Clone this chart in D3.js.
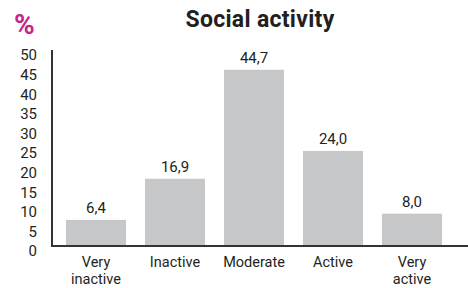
<!DOCTYPE html>
<html>
<head>
<meta charset="utf-8">
<script src="https://cdn.jsdelivr.net/npm/d3@7"></script>
<style>
  body { margin: 0; background: #fff; }
  svg { display: block; font-family: Roboto, "Noto Sans", sans-serif; }
</style>
</head>
<body>
<svg id="chart" width="468" height="288"></svg>
<script>
// Chart data
const categories = [["Very", "inactive"], ["Inactive"], ["Moderate"], ["Active"], ["Very", "active"]];
const values = [6.4, 16.9, 44.7, 24.0, 8.0];
const valueLabels = ["6,4", "16,9", "44,7", "24,0", "8,0"];
const yTicks = [0, 5, 10, 15, 20, 25, 30, 35, 40, 45, 50];

const svg = d3.select("#chart");
const margin = { top: 49, left: 52, bottom: 245 };

// Scales
const x = d3.scaleBand()
  .domain(d3.range(categories.length))
  .range([56.5, 451.5])
  .paddingInner(0.24)
  .paddingOuter(0.12);

const y = d3.scaleLinear()
  .domain([0, 50])
  .range([margin.bottom, margin.top]);

// Title and unit
svg.append("text")
  .attr("x", 260)
  .attr("y", 27)
  .attr("text-anchor", "middle")
  .attr("font-size", 23)
  .attr("font-weight", "bold")
  .attr("letter-spacing", 0.3)
  .attr("fill", "#231f20")
  .text("Social activity");

svg.append("text")
  .attr("x", 14)
  .attr("y", 34)
  .attr("font-size", 28)
  .attr("font-weight", "bold")
  .attr("fill", "#c7258e")
  .text("%");

// Bars
svg.selectAll("rect.bar")
  .data(values)
  .join("rect")
  .attr("class", "bar")
  .attr("x", (d, i) => x(i))
  .attr("y", d => y(d))
  .attr("width", x.bandwidth())
  .attr("height", d => y(0) - y(d))
  .attr("fill", "#c6c7c9");

// Value labels
svg.selectAll("text.val")
  .data(values)
  .join("text")
  .attr("class", "val")
  .attr("x", (d, i) => x(i) + x.bandwidth() / 2)
  .attr("y", d => y(d) - 7)
  .attr("text-anchor", "middle")
  .attr("font-size", 15)
  .attr("fill", "#231f20")
  .text((d, i) => valueLabels[i]);

// Y axis ticks
const yAxis = svg.append("g")
  .attr("transform", `translate(${margin.left},0)`)
  .call(d3.axisLeft(y).tickValues(yTicks).tickSize(0).tickPadding(15));
yAxis.select(".domain").remove();
yAxis.selectAll("text")
  .attr("font-size", 15)
  .attr("font-family", "Roboto, sans-serif")
  .attr("fill", "#231f20")
  .attr("dy", "0.32em")
  .attr("transform", "translate(0,6)");

// Axis lines
svg.append("line")
  .attr("x1", margin.left).attr("x2", margin.left)
  .attr("y1", margin.top + 1).attr("y2", margin.bottom + 1)
  .attr("stroke", "#333").attr("stroke-width", 2);
svg.append("line")
  .attr("x1", margin.left - 1).attr("x2", 468)
  .attr("y1", margin.bottom + 1).attr("y2", margin.bottom + 1)
  .attr("stroke", "#333").attr("stroke-width", 2);

// Category labels
const cat = svg.selectAll("text.cat")
  .data(categories)
  .join("text")
  .attr("class", "cat")
  .attr("text-anchor", "middle")
  .attr("font-size", 14.5)
  .attr("fill", "#231f20");
cat.selectAll("tspan")
  .data((d, i) => d.map(line => ({ line, i })))
  .join("tspan")
  .attr("x", d => x(d.i) + x.bandwidth() / 2)
  .attr("y", (d, j) => 267 + j * 16.5)
  .text(d => d.line);
</script>
</body>
</html>
